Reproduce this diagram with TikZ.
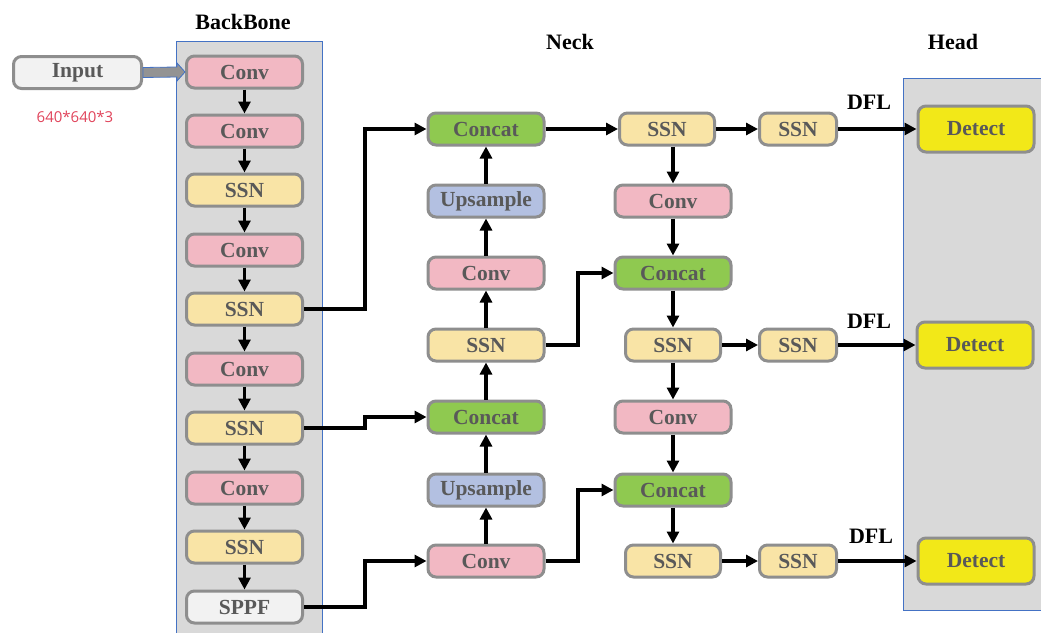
\documentclass[tikz,border=0pt]{standalone}
\usepackage{fontspec}
\setmainfont{Liberation Serif}
\newfontfamily\dimfont{Open Sans}
\usetikzlibrary{arrows.meta,calc}
\definecolor{bgray}{HTML}{D9D9D9}
\definecolor{bblue}{HTML}{4472C4}
\definecolor{pinkc}{HTML}{F2B8C3}
\definecolor{yelc}{HTML}{F9E4A6}
\definecolor{grnc}{HTML}{8FC950}
\definecolor{bluc}{HTML}{B3C0E1}
\definecolor{detc}{HTML}{F2E818}
\definecolor{whc}{HTML}{F2F2F2}
\definecolor{bordc}{HTML}{8E8E8E}
\definecolor{txtc}{HTML}{595959}
\definecolor{redc}{HTML}{E0435A}
\tikzset{
  blk/.style={draw=bordc, line width=3pt, rounded corners=8pt, inner sep=0pt,
    minimum height=32pt, font=\bfseries\fontsize{21.5}{21.5}\selectfont, text=txtc},
  wA/.style={blk, minimum width=116pt},
  wB/.style={blk, minimum width=95pt},
  wC/.style={blk, minimum width=77pt},
  conv/.style={fill=pinkc},
  ssn/.style={fill=yelc},
  cat/.style={fill=grnc},
  ups/.style={fill=bluc},
  det/.style={blk, fill=detc, minimum width=116pt, minimum height=46pt},
  arr/.style={line width=3.2pt, -{Triangle[length=12pt,width=12pt]}},
  ttl/.style={font=\bfseries\fontsize{22}{22}\selectfont, text=black},
}
\begin{document}
\begin{tikzpicture}[x=1pt,y=-1pt]
\useasboundingbox (0,0) rectangle (1041,632);
% panels
\fill[bgray] (176,41) rectangle (322,640);
\draw[bblue, line width=1pt] (176,640) -- (176,41) -- (322,41) -- (322,640);
\fill[bgray] (903,78) rectangle (1045,610);
\draw[bblue, line width=1pt] (1045,610) -- (903,610) -- (903,78) -- (1045,78);
% titles
\node[ttl] (tb) at (243,22) {BackBone};
\node[ttl] (tn) at (570,42) {Neck};
\node[ttl] (th) at (953,42) {Head};
% input
\node[blk, fill=whc, minimum width=128pt] (in) at (77.5,72.5) {Input};
\node[text=redc, font=\dimfont\fontsize{15}{15}\selectfont] (dim) at (75,117) {640*640*3};
% backbone
\node[wA,conv] (b1) at (244.5,72) {Conv};
\node[wA,conv] (b2) at (244.5,131) {Conv};
\node[wA,ssn]  (b3) at (244.5,190) {SSN};
\node[wA,conv] (b4) at (244.5,250) {Conv};
\node[wA,ssn]  (b5) at (244.5,309) {SSN};
\node[wA,conv] (b6) at (244.5,369) {Conv};
\node[wA,ssn]  (b7) at (244.5,428) {SSN};
\node[wA,conv] (b8) at (244.5,488) {Conv};
\node[wA,ssn]  (b9) at (244.5,547) {SSN};
\node[wA,fill=whc] (b10) at (244.5,607) {SPPF};
% neck column 1
\node[wA,cat]  (n1) at (486,129) {Concat};
\node[wA,ups]  (n2) at (486,201) {Upsample};
\node[wA,conv] (n3) at (486,273) {Conv};
\node[wA,ssn]  (n4) at (486,345) {SSN};
\node[wA,cat]  (n5) at (486,417) {Concat};
\node[wA,ups]  (n6) at (486,490) {Upsample};
\node[wA,conv] (n7) at (486,561) {Conv};
% neck column 2
\node[wB,ssn]  (m1) at (667,129) {SSN};
\node[wA,conv] (m2) at (673,201) {Conv};
\node[wA,cat]  (m3) at (673,273) {Concat};
\node[wB,ssn]  (m4) at (673,345) {SSN};
\node[wA,conv] (m5) at (673,417) {Conv};
\node[wA,cat]  (m6) at (673,490) {Concat};
\node[wB,ssn]  (m7) at (673,561) {SSN};
% column 3
\node[wC,ssn] (s1) at (798,129) {SSN};
\node[wC,ssn] (s2) at (798,345) {SSN};
\node[wC,ssn] (s3) at (798,561) {SSN};
% detect
\node[det] (d1) at (976,129) {Detect};
\node[det] (d2) at (975,345) {Detect};
\node[det] (d3) at (976,561) {Detect};
\node[ttl] (f1) at (869,102) {DFL};
\node[ttl] (f2) at (869,321) {DFL};
\node[ttl] (f3) at (871,536) {DFL};
% input arrow
\coordinate (ia) at (in.east);
\coordinate (ib) at (b1.west);
\draw[bblue, fill=gray!85, line width=0.8pt]
  ($(ia)+(0,-5)$) -- ($(ib)+(-8,-5)$) -- ($(ib)+(-8,-9)$) -- (ib) -- ($(ib)+(-8,9)$) -- ($(ib)+(-8,5)$) -- ($(ia)+(0,5)$) -- cycle;
% backbone arrows
\foreach \a/\b in {b1/b2,b2/b3,b3/b4,b4/b5,b5/b6,b6/b7,b7/b8,b8/b9,b9/b10}
  \draw[arr] (\a) -- (\b);
% neck col1 upward
\foreach \a/\b in {n7/n6,n6/n5,n5/n4,n4/n3,n3/n2,n2/n1}
  \draw[arr] (\a) -- (\b);
% neck col2 downward
\draw[arr] (m1.south -| m2) -- (m2);
\foreach \a/\b in {m2/m3,m3/m4,m4/m5,m5/m6,m6/m7}
  \draw[arr] (\a) -- (\b);
% lateral
\draw[arr] (b5.east) -- (365,309) |- (n1.west);
\draw[arr] (b7.east) -- (365,428) |- (n5.west);
\draw[arr] (b10.east) -- (365,607) |- (n7.west);
\draw[arr] (n1.east) -- (m1.west);
\draw[arr] (n4.east) -- (578,345) |- (m3.west);
\draw[arr] (n7.east) -- (578,561) |- (m6.west);
\draw[arr] (m1) -- (s1);
\draw[arr] (m4) -- (s2);
\draw[arr] (m7) -- (s3);
\draw[arr] (s1) -- (d1);
\draw[arr] (s2) -- (d2);
\draw[arr] (s3) -- (d3);
\end{tikzpicture}
\end{document}
